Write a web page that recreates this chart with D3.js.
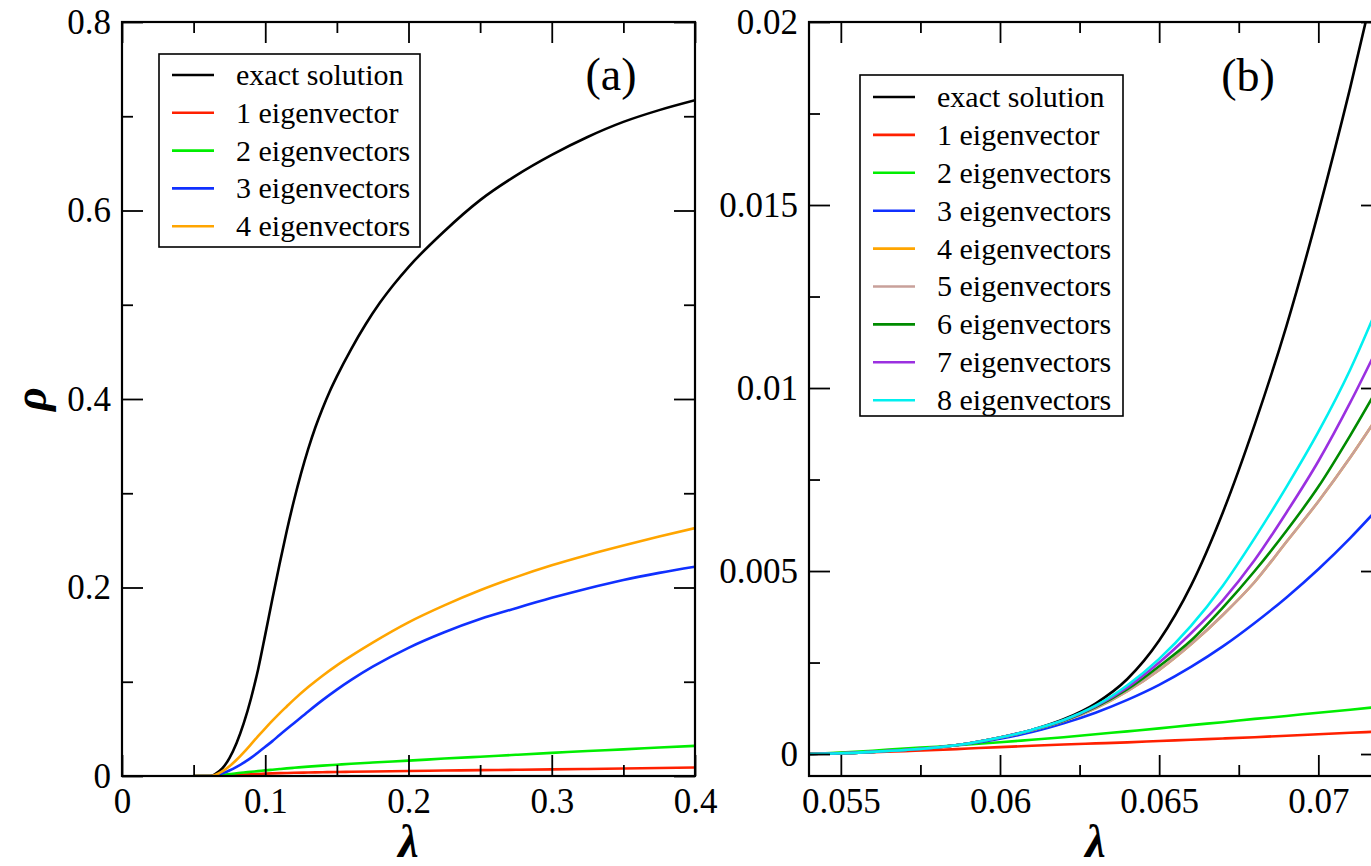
<!DOCTYPE html>
<html>
<head>
<meta charset="utf-8">
<script src="https://cdn.jsdelivr.net/npm/d3@7"></script>
<style>
  html, body { margin: 0; padding: 0; background: #fff; }
  svg { display: block; }
  text { font-family: "Liberation Serif", "Times New Roman", serif; fill: #000; }
</style>
</head>
<body>
<svg id="chart" width="1371" height="866"></svg>
<script>
// ---------------- DATA ----------------
// Panel (a)
const lambdaExactA = [0.05, 0.0615, 0.065, 0.07, 0.075, 0.08, 0.085, 0.09, 0.095, 0.1, 0.105, 0.11, 0.115, 0.12, 0.125, 0.13, 0.135, 0.14, 0.145, 0.15, 0.16, 0.17, 0.18, 0.19, 0.2, 0.225, 0.25, 0.275, 0.3, 0.325, 0.35, 0.375, 0.4];
const exactA = [0, 0, 0.002, 0.008, 0.019, 0.035, 0.056, 0.082, 0.113, 0.15, 0.188, 0.225, 0.26, 0.292, 0.321, 0.347, 0.37, 0.39, 0.408, 0.424, 0.453, 0.479, 0.502, 0.522, 0.54, 0.578, 0.611, 0.637, 0.659, 0.678, 0.694, 0.7065, 0.717];
const lambdaA = [0.05, 0.0615, 0.065, 0.07, 0.075, 0.08, 0.085, 0.09, 0.095, 0.1, 0.105, 0.11, 0.115, 0.12, 0.13, 0.14, 0.15, 0.16, 0.175, 0.2, 0.225, 0.25, 0.275, 0.3, 0.325, 0.35, 0.375, 0.4];
const eig1A  = [0, 0, 0.0001, 0.0005, 0.0009, 0.0013, 0.0016, 0.0019, 0.0022, 0.0025, 0.0028, 0.003, 0.0032, 0.0034, 0.0037, 0.004, 0.0043, 0.0045, 0.0048, 0.0053, 0.0058, 0.0062, 0.0066, 0.007, 0.0075, 0.008, 0.0085, 0.009];
const eig2A  = [0, 0, 0.0002, 0.0012, 0.002, 0.003, 0.0037, 0.0045, 0.0052, 0.006, 0.0067, 0.0074, 0.0081, 0.0087, 0.0099, 0.011, 0.012, 0.013, 0.0143, 0.0163, 0.0185, 0.0205, 0.0225, 0.0245, 0.0265, 0.0283, 0.0302, 0.032];
const eig3A  = [0, 0, 0.0005, 0.0028, 0.0058, 0.0096, 0.0141, 0.0192, 0.0249, 0.031, 0.037, 0.0435, 0.0498, 0.056, 0.0685, 0.0805, 0.0917, 0.102, 0.116, 0.136, 0.1525, 0.1665, 0.178, 0.189, 0.199, 0.208, 0.2155, 0.222];
const eig4A  = [0, 0, 0.001, 0.0048, 0.0103, 0.0172, 0.0251, 0.0336, 0.0422, 0.0506, 0.0587, 0.0665, 0.0738, 0.081, 0.0943, 0.1064, 0.1174, 0.1274, 0.1415, 0.163, 0.181, 0.197, 0.211, 0.2235, 0.2345, 0.2445, 0.254, 0.263];

// Panel (b)
const lambdaB = [0.054, 0.055, 0.056, 0.057, 0.058, 0.059, 0.06, 0.061, 0.062, 0.063, 0.064, 0.065, 0.066, 0.067, 0.068, 0.069, 0.07, 0.071, 0.072];
const exactB = [0, 0.00002, 0.00006, 0.00011, 0.00018, 0.00029, 0.00045, 0.00066, 0.00095, 0.00138, 0.00205, 0.0031, 0.0046, 0.0066, 0.009, 0.0117, 0.0148, 0.0182, 0.0219];
const eig1B  = [0, 0.000025, 0.00005, 0.00008, 0.00011, 0.00015, 0.00019, 0.000225, 0.00026, 0.00029, 0.00032, 0.000355, 0.00039, 0.000425, 0.00046, 0.0005, 0.00054, 0.00058, 0.00062];
const eig2B  = [0, 0.00004, 0.00009, 0.00015, 0.0002, 0.00026, 0.00032, 0.00039, 0.00046, 0.00054, 0.00062, 0.0007, 0.00079, 0.00087, 0.00096, 0.00104, 0.00113, 0.00121, 0.0013];
const eig3B  = [0, 0.00002, 0.00006, 0.00011, 0.00018, 0.00028, 0.00042, 0.0006, 0.00084, 0.00113, 0.00148, 0.00189, 0.00238, 0.00294, 0.00358, 0.00428, 0.00505, 0.0059, 0.00683];
const eig4B  = [0, 0.00002, 0.00006, 0.00011, 0.00018, 0.00029, 0.00045, 0.00065, 0.0009, 0.00125, 0.00172, 0.0023, 0.003, 0.0038, 0.0047, 0.0058, 0.0069, 0.0081, 0.0094];
const eig5B  = [0, 0.00002, 0.00006, 0.00011, 0.00018, 0.00029, 0.00045, 0.00065, 0.0009, 0.00125, 0.00172, 0.0023, 0.003, 0.0038, 0.0047, 0.0058, 0.0069, 0.0081, 0.0094];
const eig6B  = [0, 0.00002, 0.00006, 0.00011, 0.00018, 0.00029, 0.00045, 0.00066, 0.00091, 0.00128, 0.00177, 0.0024, 0.0031, 0.004, 0.005, 0.0061, 0.0073, 0.0087, 0.0102];
const eig7B  = [0, 0.00002, 0.00006, 0.00011, 0.00018, 0.00029, 0.00045, 0.00066, 0.00092, 0.0013, 0.00182, 0.0025, 0.0033, 0.0042, 0.0053, 0.0066, 0.008, 0.0096, 0.01135];
const eig8B  = [0, 0.00002, 0.00006, 0.00011, 0.00018, 0.00029, 0.00045, 0.00066, 0.00093, 0.00132, 0.00188, 0.0026, 0.0035, 0.0046, 0.0059, 0.0073, 0.0088, 0.0105, 0.0125];

// Legend labels & colours
const legendLabels = ["exact solution", "1 eigenvector", "2 eigenvectors", "3 eigenvectors", "4 eigenvectors",
                      "5 eigenvectors", "6 eigenvectors", "7 eigenvectors", "8 eigenvectors"];
const seriesColors = ["#000000", "#ff2000", "#00ee00", "#1030ff", "#ffa500", "#c8a09a", "#008b00", "#9b30e0", "#00f0f0"];

// Ticks
const xMajorA = [0, 0.1, 0.2, 0.3, 0.4];
const xMajorLabelsA = ["0", "0.1", "0.2", "0.3", "0.4"];
const xMinorA = [0.05, 0.15, 0.25, 0.35];
const yMajorA = [0, 0.2, 0.4, 0.6, 0.8];
const yMajorLabelsA = ["0", "0.2", "0.4", "0.6", "0.8"];
const yMinorA = [0.1, 0.3, 0.5, 0.7];

const xMajorB = [0.055, 0.06, 0.065, 0.07];
const xMajorLabelsB = ["0.055", "0.06", "0.065", "0.07"];
const xMinorB = [0.0575, 0.0625, 0.0675, 0.0725];
const yMajorB = [0, 0.005, 0.01, 0.015, 0.02];
const yMajorLabelsB = ["0", "0.005", "0.01", "0.015", "0.02"];
const yMinorB = [0.0025, 0.0075, 0.0125, 0.0175];

// ---------------- DRAW ----------------
const svg = d3.select("#chart");
svg.append("rect").attr("width", 1371).attr("height", 866).attr("fill", "#fff");

function panel(cfg) {
  const x = d3.scaleLinear().domain(cfg.xDomain).range([cfg.left, cfg.right]);
  const y = d3.scaleLinear().domain(cfg.yDomain).range([cfg.bottom, cfg.top]);
  const g = svg.append("g");

  const clipId = "clip" + cfg.id;
  svg.append("defs").append("clipPath").attr("id", clipId)
    .append("rect").attr("x", cfg.left).attr("y", cfg.top)
    .attr("width", cfg.right - cfg.left).attr("height", cfg.bottom - cfg.top);

  // curves
  const line = d3.line().curve(d3.curveMonotoneX)
    .x(d => x(d[0])).y(d => y(d[1]));
  const curves = g.append("g").attr("clip-path", `url(#${clipId})`);
  cfg.series.forEach((s, i) => {
    const pts = s.lambda.map((l, k) => [l, s.values[k]]);
    curves.append("path").datum(pts)
      .attr("d", line).attr("fill", "none")
      .attr("stroke", seriesColors[i]).attr("stroke-width", 2.6)
      .attr("stroke-linejoin", "round");
  });

  const MAJ = 21, MIN = 11;
  function styleAxis(sel) {
    sel.select(".domain").remove();
    sel.selectAll(".tick line").attr("stroke", "#000").attr("stroke-width", 1.8);
    sel.selectAll(".tick text").style("font-size", "35px")
      .style("font-family", '"Liberation Serif", "Times New Roman", serif').attr("fill", "#000");
  }
  // bottom
  g.append("g").attr("transform", `translate(0,${cfg.bottom})`)
    .call(d3.axisBottom(x).tickValues(cfg.xMajor).tickSize(-MAJ).tickPadding(12)
      .tickFormat((d, i) => cfg.xLabels[i])).call(styleAxis);
  g.append("g").attr("transform", `translate(0,${cfg.bottom})`)
    .call(d3.axisBottom(x).tickValues(cfg.xMinor).tickSize(-MIN).tickFormat("")).call(styleAxis);
  // top
  g.append("g").attr("transform", `translate(0,${cfg.top})`)
    .call(d3.axisTop(x).tickValues(cfg.xMajor).tickSize(-MAJ).tickFormat("")).call(styleAxis);
  g.append("g").attr("transform", `translate(0,${cfg.top})`)
    .call(d3.axisTop(x).tickValues(cfg.xMinor).tickSize(-MIN).tickFormat("")).call(styleAxis);
  // left
  g.append("g").attr("transform", `translate(${cfg.left},0)`)
    .call(d3.axisLeft(y).tickValues(cfg.yMajor).tickSize(-MAJ).tickPadding(11)
      .tickFormat((d, i) => cfg.yLabels[i])).call(styleAxis);
  g.append("g").attr("transform", `translate(${cfg.left},0)`)
    .call(d3.axisLeft(y).tickValues(cfg.yMinor).tickSize(-MIN).tickFormat("")).call(styleAxis);
  // right
  g.append("g").attr("transform", `translate(${cfg.right},0)`)
    .call(d3.axisRight(y).tickValues(cfg.yMajor).tickSize(-MAJ).tickFormat("")).call(styleAxis);
  g.append("g").attr("transform", `translate(${cfg.right},0)`)
    .call(d3.axisRight(y).tickValues(cfg.yMinor).tickSize(-MIN).tickFormat("")).call(styleAxis);

  // frame
  g.append("rect").attr("x", cfg.left).attr("y", cfg.top)
    .attr("width", cfg.right - cfg.left).attr("height", cfg.bottom - cfg.top)
    .attr("fill", "none").attr("stroke", "#000").attr("stroke-width", 2.2);

  // legend
  const L = cfg.legend;
  g.append("rect").attr("x", L.x).attr("y", L.y).attr("width", L.w).attr("height", L.h)
    .attr("fill", "#fff").attr("stroke", "#000").attr("stroke-width", 1.6);
  cfg.series.forEach((s, i) => {
    const cy = L.firstRow + i * L.step;
    g.append("line").attr("x1", L.x + 13).attr("x2", L.x + 55).attr("y1", cy).attr("y2", cy)
      .attr("stroke", seriesColors[i]).attr("stroke-width", 2.6);
    g.append("text").attr("x", L.x + 77).attr("y", cy).attr("dy", "0.33em")
      .style("font-size", "30px").text(legendLabels[i]);
  });

  // panel tag
  g.append("text").attr("x", cfg.tag.x).attr("y", cfg.tag.y).attr("text-anchor", "middle")
    .style("font-size", "46px").text(cfg.tag.text);

  // x label
  g.append("text").attr("x", (cfg.left + cfg.right) / 2).attr("y", 857)
    .attr("text-anchor", "middle").style("font-size", "46px").style("font-style", "italic")
    .style("font-weight", "bold").text("λ");
}

panel({
  id: "A", left: 122, right: 695, top: 22, bottom: 776,
  xDomain: [0, 0.4], yDomain: [0, 0.8],
  series: [
    { lambda: lambdaExactA, values: exactA },
    { lambda: lambdaA, values: eig1A },
    { lambda: lambdaA, values: eig2A },
    { lambda: lambdaA, values: eig3A },
    { lambda: lambdaA, values: eig4A }
  ],
  xMajor: xMajorA, xLabels: xMajorLabelsA, xMinor: xMinorA,
  yMajor: yMajorA, yLabels: yMajorLabelsA, yMinor: yMinorA,
  legend: { x: 159, y: 54, w: 261, h: 193, firstRow: 75, step: 37.8 },
  tag: { x: 611, y: 90, text: "(a)" }
});

panel({
  id: "B", left: 809, right: 1382, top: 22, bottom: 776,
  xDomain: [0.054, 0.072], yDomain: [-0.0006, 0.02],
  series: [exactB, eig1B, eig2B, eig3B, eig4B, eig5B, eig6B, eig7B, eig8B]
    .map(v => ({ lambda: lambdaB, values: v })),
  xMajor: xMajorB, xLabels: xMajorLabelsB, xMinor: xMinorB,
  yMajor: yMajorB, yLabels: yMajorLabelsB, yMinor: yMinorB,
  legend: { x: 860, y: 75, w: 263, h: 341, firstRow: 97, step: 37.9 },
  tag: { x: 1248, y: 91, text: "(b)" }
});

// y label rho
svg.append("text").attr("transform", "translate(46,399) rotate(-90)")
  .attr("text-anchor", "middle").style("font-size", "46px").style("font-style", "italic")
  .style("font-weight", "bold").text("ρ");
</script>
</body>
</html>
